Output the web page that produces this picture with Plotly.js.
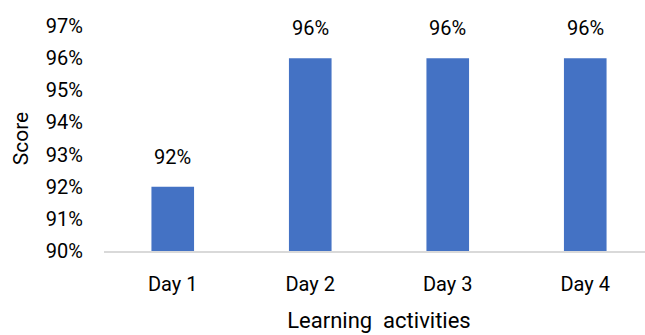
<!DOCTYPE html>
<html>
<head>
<meta charset="utf-8">
<script src="https://cdn.plot.ly/plotly-3.0.1.min.js"></script>
<style>
html,body{margin:0;padding:0;overflow:hidden;background:#fff;}
#chart{width:660px;height:335px;}
</style>
</head>
<body>
<div id="chart"></div>
<script>
const categories = ["Day 1", "Day 2", "Day 3", "Day 4"];
const scores = [0.92, 0.96, 0.96, 0.96];
const yTickVals = [0.90, 0.91, 0.92, 0.93, 0.94, 0.95, 0.96, 0.97];
const yTickText = ["90%", "91%", "92%", "93%", "94%", "95%", "96%", "97%"];
const barLabels = scores.map(v => Math.round(v * 100) + "%");

const FONT = "Roboto, 'Noto Sans', sans-serif";

const trace = {
  type: "bar",
  x: categories,
  y: scores,
  marker: {color: "#4472C4"},
  hoverinfo: "skip"
};

const annotations = categories.map((c, i) => ({
  x: c, y: scores[i], xref: "x", yref: "y",
  text: barLabels[i], showarrow: false,
  yanchor: "bottom", yshift: 16,
  font: {family: FONT, size: 20, color: "#000"}
}));

const layout = {
  width: 660, height: 335,
  margin: {l: 104, r: 6, t: 25.5, b: 84.3},
  paper_bgcolor: "#fff", plot_bgcolor: "#fff",
  bargap: 0.69,
  showlegend: false,
  font: {family: FONT, size: 20, color: "#000"},
  xaxis: {
    showline: true, linecolor: "#d9d9d9", linewidth: 2,
    showgrid: false, zeroline: false, ticks: "",
    ticklabelstandoff: 14,
    tickfont: {family: FONT, size: 20, color: "#000"},
    title: {text: "Learning  activities", font: {family: FONT, size: 22, color: "#000"}, standoff: 18}
  },
  yaxis: {
    range: [0.90, 0.97],
    tickvals: yTickVals, ticktext: yTickText,
    showline: false, showgrid: false, zeroline: false, ticks: "",
    ticklabelstandoff: 20,
    tickfont: {family: FONT, size: 20, color: "#000"},
    title: {text: "Score", font: {family: FONT, size: 21, color: "#000"}, standoff: 11}
  },
  annotations: annotations
};

Plotly.newPlot("chart", [trace], layout, {displayModeBar: false, staticPlot: true});
</script>
</body>
</html>
